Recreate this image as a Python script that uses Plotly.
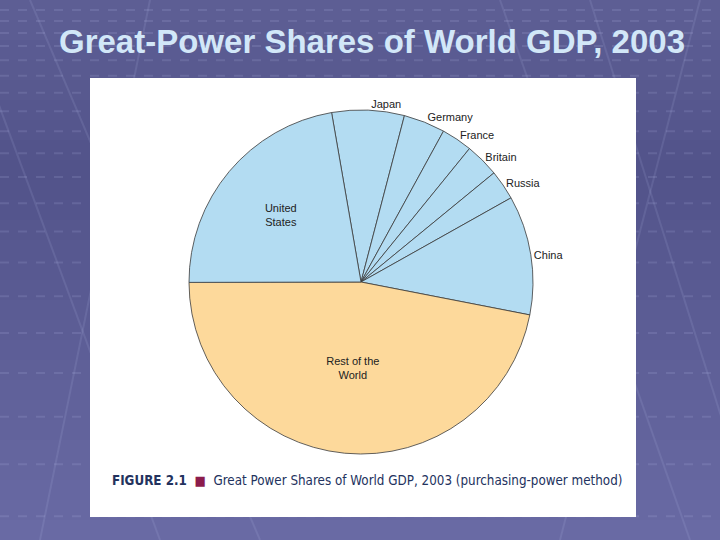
import plotly.graph_objects as go

# shares of world GDP, 2003 (purchasing-power method)
countries = ["Japan", "Germany", "France", "Britain", "Russia", "China",
             "Rest of the World", "United States"]
shares = [6.8, 3.9, 2.9, 3.2, 2.8, 11.2, 46.9, 22.3]
label_text = ["Japan", "Germany", "France", "Britain", "Russia", "China",
              "Rest of the<br>World", "United<br>States"]
label_pos = ["outside"] * 6 + ["inside", "inside"]

BLUE = "#b3dcf2"
TAN = "#fdd99b"
slice_colors = [BLUE] * 6 + [TAN, BLUE]

W, H = 720, 540


def px_x(v):
    return v / W


def px_y(v):
    return 1 - v / H


def mix(c1, c2, t):
    a = [int(c1[i:i + 2], 16) for i in (1, 3, 5)]
    b = [int(c2[i:i + 2], 16) for i in (1, 3, 5)]
    return "#" + "".join(f"{round(p + (q - p) * t):02x}" for p, q in zip(a, b))


fig = go.Figure()
fig.add_trace(go.Pie(
    labels=countries,
    values=shares,
    text=label_text,
    textinfo="text",
    textposition=label_pos,
    insidetextorientation="horizontal",
    sort=False,
    direction="clockwise",
    rotation=-9.85,
    marker=dict(colors=slice_colors, line=dict(color="#3a3a3a", width=0.8)),
    textfont=dict(family="Liberation Sans, Arial, sans-serif", size=11, color="#222222"),
    showlegend=False,
    hoverinfo="label+value",
    domain=dict(x=[px_x(189), px_x(533)], y=[px_y(454), px_y(110)]),
))

shapes = []
# slide background: soft vertical gradient
for i in range(27):
    y0, y1 = i * 20, i * 20 + 21
    t = y0 / H
    if t < 0.3:
        col = mix("#5d5e94", "#52538a", t / 0.3)
    else:
        col = mix("#52538a", "#6a6ba5", (t - 0.3) / 0.7)
    shapes.append(dict(type="rect", xref="paper", yref="paper", layer="below",
                       x0=0, x1=1, y0=px_y(y1), y1=px_y(y0),
                       fillcolor=col, line=dict(width=0)))
# faint perspective grid of the slide background
y, step = 10, 11
while y < H:
    shapes.append(dict(type="line", xref="paper", yref="paper", layer="below",
                       x0=0, x1=1, y0=px_y(y), y1=px_y(y),
                       line=dict(color="rgba(200,205,245,0.14)", width=2, dash="dash")))
    y += step
    step *= 1.09
for x0, x1 in [(-40, 160), (150, 40), (590, 760), (700, 560), (30, 260), (500, 690)]:
    shapes.append(dict(type="line", xref="paper", yref="paper", layer="below",
                       x0=px_x(x0), x1=px_x(x1), y0=1, y1=0,
                       line=dict(color="rgba(200,205,245,0.12)", width=2)))
# white figure panel
shapes.append(dict(type="rect", xref="paper", yref="paper", layer="below",
                   x0=px_x(90), x1=px_x(636), y0=px_y(517), y1=px_y(78),
                   fillcolor="white", line=dict(width=0)))

fig.update_layout(
    width=W, height=H,
    margin=dict(l=0, r=0, t=0, b=0),
    paper_bgcolor="#5f6097",
    plot_bgcolor="#5f6097",
    shapes=shapes,
    annotations=[
        dict(text="<b>Great-Power Shares of World GDP, 2003</b>", x=px_x(372), y=px_y(41),
             xref="paper", yref="paper", showarrow=False, yanchor="middle",
             font=dict(family="Liberation Sans, Arial, sans-serif", size=33, color="#d2e7f8")),
        dict(text="<b>FIGURE 2.1</b>  <span style='color:#8c1c4c'>■</span>  "
                  "Great Power Shares of World GDP, 2003 (purchasing-power method)",
             x=px_x(110), y=px_y(480), xref="paper", yref="paper",
             xanchor="left", yanchor="middle", showarrow=False,
             font=dict(family="DejaVu Sans Condensed, Liberation Sans Narrow, sans-serif",
                       size=13.3, color="#23325e")),
    ],
)

fig.write_html("out.html", config={"displayModeBar": False},
               post_script="document.body.style.margin='0';")
